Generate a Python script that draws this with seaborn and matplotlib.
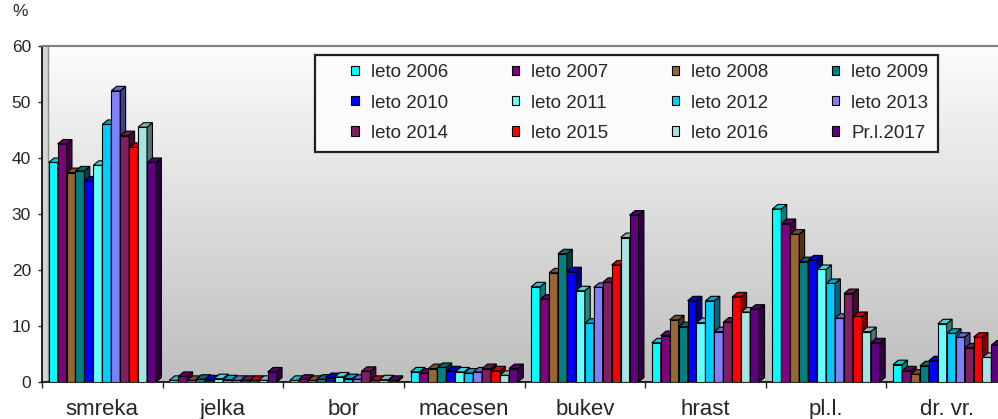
import numpy as np
import pandas as pd
import seaborn as sns
import matplotlib.pyplot as plt
from matplotlib.patches import Polygon, Patch, Rectangle
from matplotlib.colors import to_rgb, LinearSegmentedColormap

# Data (share in %)
categories = ['smreka', 'jelka', 'bor', 'macesen', 'bukev', 'hrast', 'pl.l.', 'dr. vr.']
years = ['leto 2006', 'leto 2007', 'leto 2008', 'leto 2009',
         'leto 2010', 'leto 2011', 'leto 2012', 'leto 2013',
         'leto 2014', 'leto 2015', 'leto 2016', 'Pr.l.2017']

leto_2006 = [39.2, 0.3, 0.3, 1.8, 17.0, 7.0, 30.9, 3.1]
leto_2007 = [42.5, 1.0, 0.5, 1.6, 14.8, 8.3, 28.3, 2.0]
leto_2008 = [37.4, 0.3, 0.3, 2.4, 19.5, 11.1, 26.4, 1.4]
leto_2009 = [37.7, 0.5, 0.5, 2.6, 22.9, 9.9, 21.5, 2.9]
leto_2010 = [35.9, 0.4, 0.8, 2.0, 19.7, 14.5, 21.8, 3.8]
leto_2011 = [38.7, 0.6, 0.9, 1.8, 16.3, 10.6, 20.1, 10.4]
leto_2012 = [46.0, 0.4, 0.6, 1.6, 10.5, 14.5, 17.6, 8.7]
leto_2013 = [52.0, 0.3, 0.5, 1.8, 16.9, 9.0, 11.4, 8.0]
leto_2014 = [44.0, 0.3, 1.9, 2.4, 17.8, 10.7, 15.8, 6.1]
leto_2015 = [41.9, 0.3, 0.3, 2.0, 20.9, 15.2, 11.7, 8.0]
leto_2016 = [45.5, 0.3, 0.4, 1.2, 25.8, 12.5, 9.0, 4.4]
prl_2017 = [39.2, 1.8, 0.3, 2.4, 29.8, 13.0, 7.0, 6.6]

values = [leto_2006, leto_2007, leto_2008, leto_2009, leto_2010, leto_2011,
          leto_2012, leto_2013, leto_2014, leto_2015, leto_2016, prl_2017]

colors = ['#00FFFF', '#800080', '#996633', '#008080', '#0000FF', '#66FFFF',
          '#00CCFF', '#8080FF', '#802060', '#FF0000', '#A6E3E3', '#600080']

df = pd.DataFrame({
    'vrsta': np.tile(categories, len(years)),
    'leto': np.repeat(years, len(categories)),
    'delez': np.concatenate(values),
})

sns.set_style('white')
plt.rcParams['font.family'] = ['Liberation Sans', 'DejaVu Sans']

fig = plt.figure(figsize=(9.98, 4.19), dpi=100)
ax = fig.add_axes([42 / 998, 37 / 419, 965 / 998, 336 / 419])

# gradient back wall
grad = np.linspace(0, 1, 256).reshape(-1, 1)
bg = LinearSegmentedColormap.from_list('bg', ['#fcfcfc', '#bebebe'])
ax.imshow(grad, extent=[-0.5, 7.5, 0, 60], cmap=bg, aspect='auto', origin='upper', zorder=0)
ax.axvspan(-0.5, -0.45, color='#d4d4d4', zorder=1)
ax.axvline(-0.45, color='#909090', lw=1, zorder=1)

sns.barplot(data=df, x='vrsta', y='delez', hue='leto', palette=colors, saturation=1,
            width=0.89, edgecolor='black', linewidth=0.8, legend=False, ax=ax)

# fake 3D sides and tops, like the old Excel chart
dx, dy = 0.045, 0.8
for j, cont in enumerate(ax.containers):
    base = np.array(to_rgb(colors[j]))
    z = 3 + j * 0.01
    for bar in cont:
        x0, w, h = bar.get_x(), bar.get_width(), bar.get_height()
        bar.set_zorder(z)
        ax.add_patch(Polygon([(x0 + w, 0), (x0 + w + dx, dy), (x0 + w + dx, h + dy), (x0 + w, h)],
                             fc=base * 0.5, ec='black', lw=0.8, zorder=z))
        ax.add_patch(Polygon([(x0, h), (x0 + dx, h + dy), (x0 + w + dx, h + dy), (x0 + w, h)],
                             fc=base * 0.8, ec='black', lw=0.8, zorder=z))

ax.set_xlim(-0.5, 7.5)
ax.set_ylim(0, 60)
ax.set_yticks(range(0, 61, 10))
ax.set_xticks(range(len(categories)))
ax.set_xticklabels(categories, fontsize=16)
ax.set_xticks(np.arange(-0.5, len(categories), 1), minor=True)
ax.tick_params(axis='y', left=True, length=3, width=1, pad=5, labelsize=12.5)
ax.tick_params(axis='x', which='major', bottom=False, length=0, pad=12)
ax.tick_params(axis='x', which='minor', bottom=True, length=4, width=1)
ax.set_xlabel('')
ax.set_ylabel('')

for s in ['left', 'bottom']:
    ax.spines[s].set_color('black')
    ax.spines[s].set_linewidth(1.2)
ax.spines['top'].set_color('#808080')
ax.spines['top'].set_linewidth(1.5)
ax.spines['right'].set_visible(False)

fig.text(20 / 998, 1 - 12 / 419, '%', ha='center', va='center', fontsize=12.5)

# legend (row-wise order like the original)
fig.patches.append(Rectangle((315 / 998, 1 - 152 / 419), 623 / 998, 97 / 419,
                             transform=fig.transFigure, fc='#fbfbfb', ec='#202020', lw=1.6, zorder=5))
handles = [Patch(fc=c, ec='black', lw=0.8) for c in colors]
order = [r * 4 + c for c in range(4) for r in range(3)]
leg = fig.legend([handles[i] for i in order], [years[i] for i in order], ncol=4,
                 loc='upper left', bbox_to_anchor=(342 / 998, 1 - 55 / 419),
                 fontsize=13.5, frameon=False, borderpad=0, handlelength=0.39, handleheight=0.39,
                 handletextpad=0.66, columnspacing=3.37, labelspacing=0.7)
leg.set_zorder(6)

plt.savefig('out.png', dpi=100)
plt.close()
